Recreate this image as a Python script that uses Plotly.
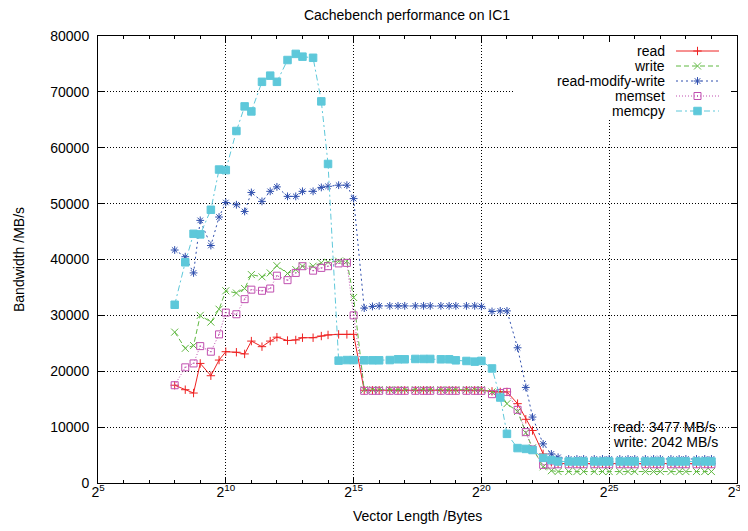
import plotly.graph_objects as go

# ---------------- data ----------------
vector_bytes = [
    256, 341, 427, 512, 683, 853, 1024, 1365, 1707, 2048, 2731, 3413,
    4096, 5461, 6827, 8192, 10923, 13653, 16384, 21845, 27307,
    32768, 43691, 54613, 65536, 87381, 109227, 131072, 174763, 218453,
    262144, 349525, 436907, 524288, 699051, 873813, 1048576, 1398101, 1747627,
    2097152, 2796203, 3495253, 4194304, 5592405, 6990507, 8388608, 11184811,
    13981013, 16777216, 22369621, 27962027, 33554432, 44739243, 55924053,
    67108864, 89478485, 111848107, 134217728, 178956971, 223696213,
    268435456, 357913941, 447392427, 536870912,
]

read = [
    17500, 16700, 16100, 21400, 19200, 22000, 23500, 23400, 23100,
    25400, 24400, 25400, 26100, 25500, 25600, 26000, 26000, 26300,
    26500, 26600, 26600, 26600, 16600, 16600, 16600, 16600, 16600,
    16600, 16600, 16600, 16600, 16600, 16600, 16600, 16600, 16600,
    16600, 16400, 16300, 16300, 14200, 11400, 9400, 5200, 3700,
    3480, 3480, 3480, 3480, 3480, 3480, 3480, 3480, 3480, 3480,
    3480, 3480, 3480, 3480, 3480, 3480, 3480, 3480, 3480,
]

write = [
    27000, 24100, 24600, 30000, 28800, 31100, 34400, 34000, 34800,
    37300, 36900, 37600, 38900, 37500, 38200, 38800, 38800, 39400,
    39500, 39700, 39700, 33200, 16700, 16700, 16700, 16700, 16700,
    16700, 16700, 16700, 16700, 16700, 16700, 16700, 16700, 16700,
    16700, 16300, 16000, 14200, 12800, 9000, 6300, 2900, 2200,
    2050, 2050, 2050, 2050, 2050, 2050, 2050, 2050, 2050, 2050,
    2050, 2050, 2050, 2050, 2050, 2050, 2050, 2050, 2050,
]

read_modify_write = [
    41700, 40500, 37600, 47000, 42500, 47600, 50200, 49800, 48600,
    52000, 50400, 52200, 53000, 51300, 51300, 52200, 52200, 52900,
    53100, 53300, 53300, 50900, 31300, 31600, 31700, 31700, 31700,
    31700, 31700, 31700, 31700, 31700, 31700, 31700, 31700, 31700,
    31600, 30700, 30800, 30800, 24200, 17100, 11800, 7000, 5200,
    4600, 4300, 4300, 4300, 4300, 4300, 4300, 4300, 4300, 4300,
    4300, 4300, 4300, 4300, 4300, 4300, 4300, 4300, 4300,
]

memset = [
    17500, 20700, 21400, 24500, 23500, 26600, 30500, 30200, 32900,
    34600, 34400, 34800, 37100, 36300, 37600, 38800, 38000, 38500,
    38800, 39300, 39400, 30000, 16500, 16500, 16500, 16500, 16500,
    16500, 16500, 16500, 16500, 16500, 16500, 16500, 16500, 16500,
    16500, 15900, 16100, 16300, 13100, 9100, 6000, 3250, 3300,
    3350, 3350, 3350, 3350, 3350, 3350, 3350, 3350, 3350, 3350,
    3350, 3350, 3350, 3350, 3350, 3350, 3350, 3350, 3350,
]

memcpy = [
    31900, 39500, 44600, 44500, 48900, 56100, 56000, 63000, 67400,
    66500, 71800, 72900, 71800, 75700, 76800, 76300, 76100, 68300,
    57100, 21900, 22000, 22000, 21960, 21960, 21960, 22000, 22140,
    22140, 22200, 22200, 22200, 22140, 22140, 21960, 21840, 21720,
    21850, 20500, 15300, 8800, 6250, 6100, 5900, 4500, 4100,
    3850, 3850, 3850, 3850, 3850, 3850, 3850, 3850, 3850, 3850,
    3850, 3850, 3850, 3850, 3850, 3850, 3850, 3850, 3850,
]

series_names = ["read", "write", "read-modify-write", "memset", "memcpy"]
series_values = [read, write, read_modify_write, memset, memcpy]

x_tick_exponents = [5, 10, 15, 20, 25, 30]
x_minor_exponents = list(range(5, 31))
y_tick_values = [0, 10000, 20000, 30000, 40000, 50000, 60000, 70000, 80000]

# ---------------- styles ----------------
FONT = "Liberation Sans, Arial, Helvetica, sans-serif"
styles = [
    dict(color="#ee2222", dash="solid", symbol="cross-thin", size=6),
    dict(color="#5fb840", dash="5px,3px", symbol="x-thin", size=7),
    dict(color="#2f4fae", dash="2px,3px", symbol="asterisk", size=6.5),
    dict(color="#c04fb0", dash="1px,2px", symbol="square-open-dot", size=7),
    dict(color="#5ec8da", dash="6px,3px,2px,3px", symbol="square", size=7.5),
]

# page body has an 8px margin: figure is 8px smaller and sits at (8, 8)
W, H = 740, 523
PL, PT, PW, PH = 90, 28, 639, 447   # plot area inside the figure

fig = go.Figure()

for name, vals, st in zip(series_names, series_values, styles):
    fig.add_trace(go.Scatter(
        x=vector_bytes, y=vals, name=name, mode="lines+markers",
        line=dict(color=st["color"], width=1, dash=st["dash"]),
        marker=dict(symbol=st["symbol"], size=st["size"], color=st["color"],
                    line=dict(color=st["color"], width=1)),
        showlegend=False,
    ))

# ---------------- gnuplot-style key (text left of sample) ----------------
# overlay axes are in window pixel units (plot area spans 98..737, 36..483)
fig.add_trace(go.Scatter(
    x=[513, 736, 736, 513, 513], y=[37, 37, 119, 119, 37],
    mode="lines", fill="toself", fillcolor="white", line=dict(width=0),
    xaxis="x2", yaxis="y2", showlegend=False, hoverinfo="skip",
))
key_rows = [51, 66, 81, 96, 111]
for name, st, ky in zip(series_names, styles, key_rows):
    fig.add_trace(go.Scatter(
        x=[676, 719], y=[ky, ky], mode="lines", xaxis="x2", yaxis="y2",
        line=dict(color=st["color"], width=1, dash=st["dash"]),
        showlegend=False, hoverinfo="skip",
    ))
    fig.add_trace(go.Scatter(
        x=[697.5], y=[ky], mode="markers", xaxis="x2", yaxis="y2",
        marker=dict(symbol=st["symbol"], size=st["size"], color=st["color"],
                    line=dict(color=st["color"], width=1)),
        showlegend=False, hoverinfo="skip",
    ))
    fig.add_annotation(x=667, y=ky, xref="x2", yref="y2", text=name,
                       showarrow=False, xanchor="right", yanchor="middle",
                       font=dict(family=FONT, size=14, color="black"))

axis_common = dict(
    showline=True, linecolor="black", linewidth=1, mirror="ticks",
    ticks="inside", tickcolor="black", tickwidth=1, ticklen=6,
    showgrid=True, gridcolor="black", gridwidth=1, griddash="1px,2px",
    zeroline=False, tickfont=dict(family=FONT, size=14, color="black"),
    automargin=False, ticklabeloverflow="allow",
)

fig.update_layout(
    width=W, height=H,
    margin=dict(l=PL, r=W - PL - PW, t=PT, b=H - PT - PH, autoexpand=False),
    paper_bgcolor="white", plot_bgcolor="white",
    font=dict(family=FONT, size=14, color="black"),
    title=dict(text="Cachebench performance on IC1", x=(407 - 98) / PW, xref="paper",
               xanchor="center", y=1 - 6.8 / H, yref="container",
               yanchor="middle", font=dict(family=FONT, size=14, color="black")),
    xaxis=dict(
        type="log", range=[5 * 0.30103, 30 * 0.30103],
        tickmode="array",
        tickvals=[2 ** e for e in x_tick_exponents],
        ticktext=["2<sup>%d</sup>" % e for e in x_tick_exponents],
        ticklabelstandoff=-4,
        minor=dict(tickmode="array", tickvals=[2 ** e for e in x_minor_exponents],
                   ticks="inside", ticklen=3, tickcolor="black", tickwidth=1,
                   showgrid=False),
        **axis_common,
    ),
    yaxis=dict(
        range=[0, 80000], tickmode="array", tickvals=y_tick_values,
        ticktext=[str(v) for v in y_tick_values], ticklabelstandoff=5,
        **axis_common,
    ),
    xaxis2=dict(overlaying="x", range=[98, 737], visible=False, fixedrange=True),
    yaxis2=dict(overlaying="y", range=[483, 36], visible=False, fixedrange=True),
    showlegend=False,
)

fig.add_annotation(text="Bandwidth /MB/s", xref="paper", yref="paper",
                   x=(18.5 - 98) / PW, y=0.5, textangle=-90, showarrow=False,
                   xanchor="center", yanchor="middle",
                   font=dict(family=FONT, size=14, color="black"))
fig.add_annotation(text="Vector Length /Bytes", xref="paper", yref="paper",
                   x=0.5, y=(483 - 516) / PH, showarrow=False,
                   xanchor="center", yanchor="middle",
                   font=dict(family=FONT, size=14, color="black"))
fig.add_annotation(text="read: 3477 MB/s", xref="paper", yref="paper",
                   x=(611 - 98) / PW, y=(483 - 426.5) / PH, showarrow=False,
                   xanchor="left", yanchor="middle",
                   font=dict(family=FONT, size=14, color="black"))
fig.add_annotation(text="write: 2042 MB/s", xref="paper", yref="paper",
                   x=(611 - 98) / PW, y=(483 - 441.5) / PH, showarrow=False,
                   xanchor="left", yanchor="middle",
                   font=dict(family=FONT, size=14, color="black"))

fig.write_html("out.html")
